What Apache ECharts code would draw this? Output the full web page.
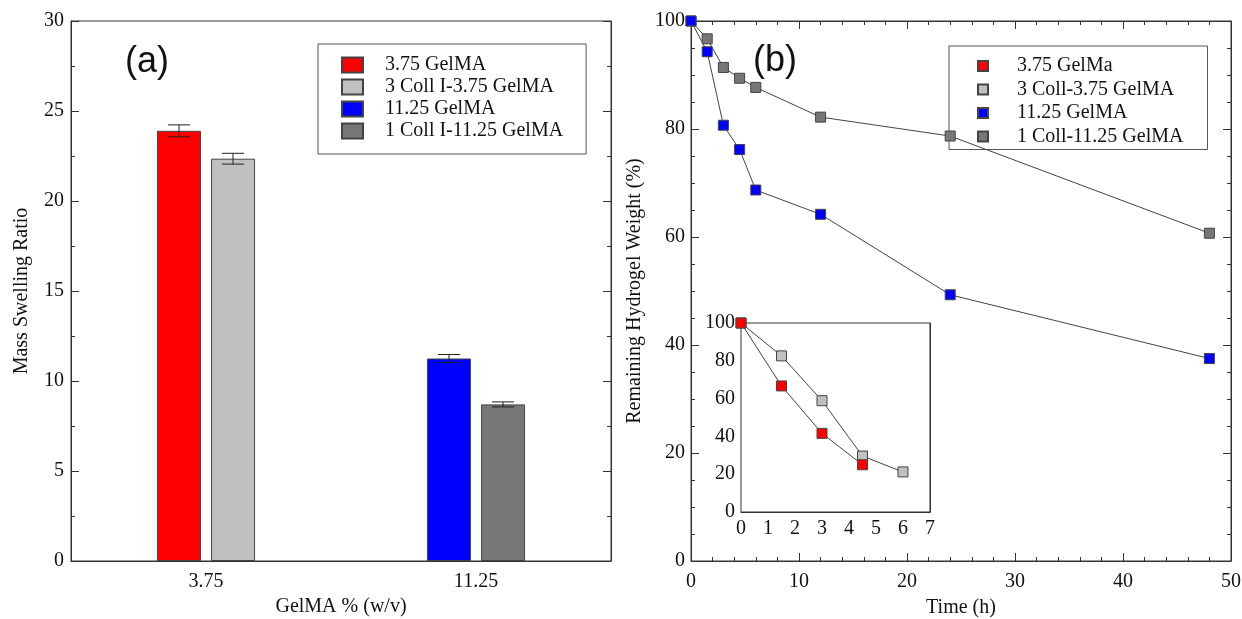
<!DOCTYPE html>
<html>
<head>
<meta charset="utf-8">
<script src="https://cdn.jsdelivr.net/npm/echarts@6/dist/echarts.min.js"></script>
<style>
  html, body { margin: 0; padding: 0; background: #fff; }
  #chart { width: 1242px; height: 619px; }
</style>
</head>
<body>
<div id="chart"></div>
<script>
// (a) 溶胀比
const categories = ['3.75', '11.25'];
const barNames = ['3.75 GelMA', '3 Coll I-3.75 GelMA', '11.25 GelMA', '1 Coll I-11.25 GelMA'];
const barValues = [23.9, 22.35, 11.25, 8.7];
const barErrors = [0.33, 0.3, 0.22, 0.14];
const barCategory = [0, 0, 1, 1];
const barSlot = [-1, 1, -1, 1];

// (b) 降解曲线
const lineNames = ['3.75 GelMa', '3 Coll-3.75 GelMA', '11.25 GelMA', '1 Coll-11.25 GelMA'];
const timeMain = [0, 1.5, 3, 4.5, 6, 12, 24, 48];
const weight1125 = [100, 94.3, 80.7, 76.2, 68.7, 64.2, 49.3, 37.5];
const weightColl1125 = [100, 96.7, 91.4, 89.4, 87.7, 82.2, 78.7, 60.7];
// 插图
const time375 = [0, 1.5, 3, 4.5];
const weight375 = [100, 66.7, 41.6, 25.0];
const timeColl375 = [0, 1.5, 3, 4.5, 6];
const weightColl375 = [100, 82.6, 58.9, 29.6, 21.2];

const serif = 'Liberation Serif';
const ink = '#333';
const barColors = ['#ff0000', '#c0c0c0', '#0000ff', '#777777'];
const lineColors = ['#ff0000', '#c0c0c0', '#0000ff', '#777777'];

const myChart = echarts.init(document.getElementById('chart'));

function valueAxis(grid, pos, min, max, interval, minorSplit, showLabel, margin) {
  return {
    type: 'value', gridIndex: grid, position: pos, min: min, max: max, interval: interval,
    axisLine: { show: true, onZero: false, lineStyle: { color: ink, width: 1 } },
    axisTick: { show: true, inside: true, length: 8, lineStyle: { color: ink } },
    minorTick: { show: true, splitNumber: minorSplit, length: 4, lineStyle: { color: ink } },
    splitLine: { show: false },
    axisLabel: { show: showLabel, margin: margin, color: '#111', fontFamily: serif, fontSize: 20 }
  };
}

const zip = (xs, ys) => xs.map((x, i) => [x, ys[i]]);

const barSeries = barNames.map((name, i) => ({
  name: name,
  type: 'bar',
  xAxisIndex: 0, yAxisIndex: 0,
  stack: barSlot[i] < 0 ? 'left' : 'right',
  barWidth: 44,
  barGap: '23%',
  data: categories.map((c, j) => (j === barCategory[i] ? barValues[i] : '-')),
  itemStyle: { color: barColors[i], borderColor: '#444', borderWidth: 1 }
}));

const errData = barNames.map((n, i) => [barCategory[i], barValues[i], barErrors[i], barSlot[i]]);

const errSeries = {
  type: 'custom',
  xAxisIndex: 0, yAxisIndex: 0,
  z: 10,
  silent: true,
  data: errData,
  renderItem: function (params, api) {
    const band = api.size([1, 0])[0];
    const c = api.coord([api.value(0), api.value(1)]);
    const x = c[0] + api.value(3) * band * 0.1;
    const hi = api.coord([api.value(0), api.value(1) + api.value(2)])[1];
    const lo = api.coord([api.value(0), api.value(1) - api.value(2)])[1];
    const w = band * 0.041;
    const st = { stroke: '#222', lineWidth: 1 };
    return {
      type: 'group',
      children: [
        { type: 'line', shape: { x1: x, y1: hi, x2: x, y2: lo }, style: st },
        { type: 'line', shape: { x1: x - w, y1: hi, x2: x + w, y2: hi }, style: st },
        { type: 'line', shape: { x1: x - w, y1: lo, x2: x + w, y2: lo }, style: st }
      ]
    };
  }
};

function lineSeries(name, color, xIdx, yIdx, data) {
  return {
    name: name, type: 'line', xAxisIndex: xIdx, yAxisIndex: yIdx,
    data: data, symbol: 'rect', symbolSize: 10, showSymbol: true,
    lineStyle: { color: '#444', width: 1 },
    itemStyle: { color: color, borderColor: '#444', borderWidth: 1 },
    clip: false, z: 5
  };
}

const legendText = { fontFamily: serif, fontSize: 20, lineHeight: 20, color: '#111' };
const nameText = { fontFamily: serif, fontSize: 20, color: '#111' };

const option = {
  animation: false,
  backgroundColor: '#fff',
  grid: [
    { left: 71, top: 21, width: 540, height: 540, show: true, borderColor: ink, borderWidth: 1, outerBoundsMode: 'none' },
    { left: 691, top: 21, width: 540, height: 540, show: true, borderColor: ink, borderWidth: 1, outerBoundsMode: 'none' },
    { left: 741, top: 323, width: 189, height: 189, show: true, borderColor: ink, borderWidth: 1, backgroundColor: '#fff', z: 3, outerBoundsMode: 'none' }
  ],
  xAxis: [
    {
      type: 'category', gridIndex: 0, data: categories, position: 'bottom',
      name: 'GelMA % (w/v)', nameLocation: 'middle', nameGap: 35,
      nameTextStyle: nameText,
      axisLine: { lineStyle: { color: ink } },
      axisTick: { inside: true, alignWithLabel: true, length: 6, lineStyle: { color: ink } },
      axisLabel: { margin: 11, color: '#111', fontFamily: serif, fontSize: 20 }
    },
    Object.assign(valueAxis(1, 'bottom', 0, 50, 10, 5, true, 11), {
      name: 'Time (h)', nameLocation: 'middle', nameGap: 37,
      nameTextStyle: nameText
    }),
    valueAxis(1, 'top', 0, 50, 10, 5, false, 8),
    valueAxis(2, 'bottom', 0, 7, 1, 2, true, 7),
    valueAxis(2, 'top', 0, 7, 1, 2, false, 6)
  ],
  yAxis: [
    Object.assign(valueAxis(0, 'left', 0, 30, 5, 2, true, 7), {
      name: 'Mass Swelling Ratio', nameLocation: 'middle', nameGap: 39,
      nameTextStyle: nameText
    }),
    valueAxis(0, 'right', 0, 30, 5, 2, false, 8),
    Object.assign(valueAxis(1, 'left', 0, 100, 20, 4, true, 6), {
      name: 'Remaining Hydrogel Weight (%)', nameLocation: 'middle', nameGap: 46,
      nameTextStyle: nameText
    }),
    valueAxis(1, 'right', 0, 100, 20, 4, false, 8),
    valueAxis(2, 'left', 0, 100, 20, 2, true, 6),
    valueAxis(2, 'right', 0, 100, 20, 2, false, 6)
  ],
  legend: [
    {
      data: barNames, orient: 'vertical', left: 318, top: 44,
      itemWidth: 21, itemHeight: 15, itemGap: 2,
      padding: [11, 23, 13, 23],
      borderColor: '#555', borderWidth: 1, backgroundColor: '#fff',
      selectedMode: false, icon: 'rect',
      textStyle: Object.assign({ padding: [0, 0, 0, 17] }, legendText)
    },
    {
      data: lineNames, orient: 'vertical', left: 949, top: 46,
      itemWidth: 10, itemHeight: 10, itemGap: 3.5,
      padding: [10, 24, 3, 28],
      borderColor: '#555', borderWidth: 1, backgroundColor: '#fff',
      selectedMode: false, icon: 'rect',
      textStyle: Object.assign({ padding: [0, 0, 0, 24] }, legendText)
    }
  ],
  graphic: [
    { type: 'text', left: 125, top: 44, style: { text: '(a)', fontFamily: 'Liberation Sans', fontSize: 36, fill: '#111' } },
    { type: 'text', left: 753, top: 43, style: { text: '(b)', fontFamily: 'Liberation Sans', fontSize: 36, fill: '#111' } }
  ],
  series: barSeries.concat([
    errSeries,
    lineSeries(lineNames[3], lineColors[3], 1, 2, zip(timeMain, weightColl1125)),
    lineSeries(lineNames[2], lineColors[2], 1, 2, zip(timeMain, weight1125)),
    lineSeries(lineNames[1], lineColors[1], 3, 4, zip(timeColl375, weightColl375)),
    lineSeries(lineNames[0], lineColors[0], 3, 4, zip(time375, weight375))
  ])
};

myChart.setOption(option, true);
</script>
</body>
</html>
